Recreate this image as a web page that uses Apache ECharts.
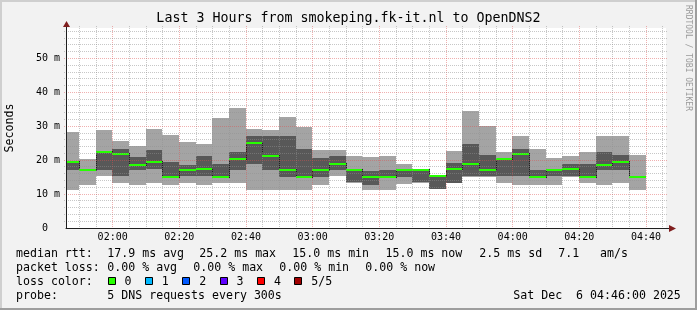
<!DOCTYPE html>
<html><head><meta charset="utf-8">
<script src="https://cdn.jsdelivr.net/npm/echarts@6/dist/echarts.min.js"></script>
<style>html,body{margin:0;padding:0;background:#f2f2f2}#c{width:697px;height:310px}</style>
</head><body><div id="c"></div>
<script>
// ---- data (ms) ----
const binMinutes = 5;
const binStart = ['01:45','01:50','01:55','02:00','02:05','02:10','02:15','02:20','02:25','02:30',
  '02:35','02:40','02:45','02:50','02:55','03:00','03:05','03:10','03:15','03:20',
  '03:25','03:30','03:35','03:40','03:45','03:50','03:55','04:00','04:05','04:10',
  '04:15','04:20','04:25','04:30','04:35'];
const pingMin    = [11.1,12.7,15.2,13.4,12.7,13.4,12.7,13.2,12.7,13.4,13.4,11.1,11.1,11.1,11.1,12.7,15.2,13.3,11.1,11.1,13.0,13.3,11.5,13.3,15.0,15.0,13.4,12.7,12.7,12.7,15.0,13.4,12.7,13.4,11.1];
const ping2      = [17.2,16.8,17.2,15.2,17.2,17.4,14.8,15.2,15.2,14.8,17.0,18.9,17.2,15.1,14.8,15.1,17.0,13.5,12.7,14.8,15.1,13.5,11.6,13.4,15.2,15.2,15.2,15.2,14.8,15.2,15.2,14.8,17.0,17.2,14.8];
const pingMedian = [19.5,17.0,22.5,21.8,18.7,19.6,15.0,17.0,17.3,15.0,20.4,25.2,21.3,17.2,15.0,17.0,19.0,17.2,15.0,15.0,17.0,17.2,15.4,17.5,19.0,17.2,20.4,21.7,15.0,17.0,17.3,15.0,18.7,19.6,15.0];
const ping4      = [19.8,17.3,22.8,23.3,20.8,23.0,19.5,18.5,21.3,19.0,22.5,27.2,27.2,27.2,23.3,20.6,21.3,17.4,16.8,17.0,17.2,17.4,15.6,19.2,24.8,21.6,20.5,23.3,17.1,17.2,18.8,19.0,22.4,21.6,15.4];
const pingMax    = [28.3,20.3,28.9,25.7,24.2,29.2,27.3,25.5,24.9,32.5,35.4,29.2,28.9,32.7,29.8,23.0,23.0,21.3,20.8,21.3,18.9,17.5,15.7,22.7,34.5,30.1,22.4,27.1,23.3,20.7,21.3,22.4,27.1,27.1,21.6];

const xRange = ['01:46','04:46'];
const xTickLabels = ['02:00','02:20','02:40','03:00','03:20','03:40','04:00','04:20','04:40'];
const xMinorGrid = ['01:50','01:55','02:05','02:10','02:15','02:25','02:30','02:35','02:45','02:50','02:55',
  '03:05','03:10','03:15','03:25','03:30','03:35','03:45','03:50','03:55','04:05','04:10','04:15',
  '04:25','04:30','04:35','04:45'];
const yTickLabels = [0,10,20,30,40,50];
const yMinorGrid = [2,4,6,8,12,14,16,18,22,24,26,28,32,34,36,38,42,44,46,48,52,54,56,58];
const yMajorGrid = [10,20,30,40,50];
const yMax = 59;

const lossLabels = ['0','1','2','3','4','5/5'];
const lossColors = ['#26ff00','#00b8ff','#0059ff','#5e00ff','#ff0000','#a00000'];

// ---- helpers ----
const toMin = s => { const p = s.split(':'); return (+p[0]) * 60 + (+p[1]); };
const fmtMin = v => { const h = Math.floor(v / 60), m = Math.round(v % 60); return (h < 10 ? '0' : '') + h + ':' + (m < 10 ? '0' : '') + m; };
const xMin = toMin(xRange[0]), xMax = toMin(xRange[1]);

const lightSmoke = '#a4a4a4', darkSmoke = '#585858', medianColor = lossColors[0];
const gridMinor = 'rgba(143,143,143,0.5)', gridMajor = 'rgba(222,79,79,0.45)';
const MONO = '"DejaVu Sans Mono", monospace';

const barData = binStart.map((t, i) => [toMin(t), pingMin[i], ping2[i], pingMedian[i], ping4[i], pingMax[i],
  i > 0 ? pingMedian[i - 1] : pingMedian[i]]);

const gridData = [].concat(
  xMinorGrid.map(t => [0, toMin(t), 0]),
  xTickLabels.map(t => [0, toMin(t), 1]),
  yMinorGrid.map(v => [1, v, 0]),
  yMajorGrid.map(v => [1, v, 1])
);

function renderBar(params, api) {
  const cs = params.coordSys;
  const s = api.value(0);
  const left = api.coord([s, 0])[0], right = api.coord([s + binMinutes, 0])[0];
  const x0 = Math.max(Math.floor(left), cs.x);
  const x1 = Math.min(Math.floor(right), cs.x + cs.width);
  const Y = v => Math.round(api.coord([s, v])[1]);
  const yLo = Y(api.value(1)), y2 = Y(api.value(2)), yMed = Y(api.value(3)),
        y4 = Y(api.value(4)), yHi = Y(api.value(5)), yPrev = Y(api.value(6));
  const ch = [
    { type: 'rect', shape: { x: x0, y: yHi, width: x1 - x0, height: yLo - yHi }, style: { fill: lightSmoke } },
    { type: 'rect', shape: { x: x0, y: y4, width: x1 - x0, height: y2 - y4 }, style: { fill: darkSmoke } }
  ];
  if (params.dataIndex > 0 && yPrev !== yMed) {
    ch.push({ type: 'rect', shape: { x: x0, y: Math.min(yPrev, yMed) - 1, width: 1, height: Math.abs(yPrev - yMed) + 2 }, style: { fill: '#202020' } });
  }
  ch.push({ type: 'rect', shape: { x: x0, y: yMed - 1, width: x1 - x0, height: 2 }, style: { fill: medianColor } });
  return { type: 'group', children: ch };
}

function renderGrid(params, api) {
  const cs = params.coordSys;
  const o = api.value(0), v = api.value(1), major = api.value(2);
  let shape;
  if (o === 0) {
    const x = Math.floor(api.coord([v, 0])[0]) + 0.5;
    shape = { x1: x, y1: cs.y - 2, x2: x, y2: cs.y + cs.height + 2 };
  } else {
    const y = Math.floor(api.coord([xMin, v])[1]) + 0.5;
    shape = { x1: cs.x - 2, y1: y, x2: cs.x + cs.width + 2, y2: y };
  }
  return { type: 'line', shape, style: { stroke: major ? gridMajor : gridMinor, lineWidth: 1, lineDash: [1, 1] } };
}

// ---- legend / decoration ----
const LF = '11.6px ' + MONO;
function txt(x, y, s, opts) {
  return Object.assign({ type: 'text', silent: true, style: { x, y, text: s, font: LF, fill: '#000',
    align: 'left', verticalAlign: 'middle', textAlign: 'left', textVerticalAlign: 'middle' } }, opts || {});
}
const rows = [254, 268, 282, 296.3];
const g = [];
// frame shades
g.push({ type: 'rect', silent: true, shape: { x: 0, y: 0, width: 697, height: 2 }, style: { fill: '#cfcfcf' } });
g.push({ type: 'rect', silent: true, shape: { x: 0, y: 0, width: 2, height: 310 }, style: { fill: '#cfcfcf' } });
g.push({ type: 'rect', silent: true, shape: { x: 0, y: 308, width: 697, height: 2 }, style: { fill: '#9e9e9e' } });
g.push({ type: 'rect', silent: true, shape: { x: 695, y: 0, width: 2, height: 310 }, style: { fill: '#9e9e9e' } });
// title
g.push({ type: 'text', silent: true, style: { x: 348.5, y: 19, text: 'Last 3 Hours from smokeping.fk-it.nl to OpenDNS2',
  font: '13.3px ' + MONO, fill: '#000', align: 'center', verticalAlign: 'middle', textAlign: 'center', textVerticalAlign: 'middle' } });
// unit label
g.push({ type: 'text', silent: true, x: 10, y: 128, rotation: Math.PI / 2, style: { x: 0, y: 0, text: 'Seconds',
  font: '11.6px ' + MONO, fill: '#000', align: 'center', verticalAlign: 'middle', textAlign: 'center', textVerticalAlign: 'middle' } });
// watermark
g.push({ type: 'text', silent: true, x: 688.5, y: 58, rotation: -Math.PI / 2, style: { x: 0, y: 0, text: 'RRDTOOL / TOBI OETIKER',
  font: '8px ' + MONO, fill: '#9a9a9a', align: 'center', verticalAlign: 'middle', textAlign: 'center', textVerticalAlign: 'middle' } });
// axis arrows
g.push({ type: 'polygon', silent: true, z: 10, shape: { points: [[63, 27], [70, 27], [66.5, 21]] }, style: { fill: '#801f1f' } });
g.push({ type: 'polygon', silent: true, z: 10, shape: { points: [[669, 225], [669, 232], [676, 228.5]] }, style: { fill: '#801f1f' } });
g.push({ type: 'line', silent: true, z: 10, shape: { x1: 66.5, y1: 27, x2: 66.5, y2: 28 }, style: { stroke: '#1f1f1f', lineWidth: 1 } });
g.push({ type: 'line', silent: true, z: 10, shape: { x1: 666, y1: 228.5, x2: 669, y2: 228.5 }, style: { stroke: '#1f1f1f', lineWidth: 1 } });
// legend rows
[[16, 'median rtt:'], [107.3, '17.9 ms avg'], [199.3, '25.2 ms max'], [292.3, '15.0 ms min'],
 [385.5, '15.0 ms now'], [479.3, '2.5 ms sd'], [558.3, '7.1'], [600, 'am/s']].forEach(a => g.push(txt(a[0], rows[0], a[1])));
[[16, 'packet loss:'], [107.3, '0.00 % avg'], [193.3, '0.00 % max'], [279.3, '0.00 % min'],
 [365.3, '0.00 % now']].forEach(a => g.push(txt(a[0], rows[1], a[1])));
g.push(txt(16, rows[2], 'loss color:'));
lossLabels.forEach((l, i) => {
  const bx = 107.5 + i * 37.35;
  g.push({ type: 'rect', silent: true, shape: { x: Math.round(bx) + 0.5, y: 277.5, width: 7, height: 7 },
    style: { fill: lossColors[i], stroke: '#000', lineWidth: 1 } });
  g.push(txt(bx + 17, rows[2], l));
});
g.push(txt(16, rows[3], 'probe:'));
g.push(txt(107.3, rows[3], '5 DNS requests every 300s'));
g.push(txt(513.3, rows[3], 'Sat Dec  6 04:46:00 2025'));

const chart = echarts.init(document.getElementById('c'), null, { renderer: 'canvas' });
chart.setOption({
  animation: false,
  backgroundColor: '#f2f2f2',
  grid: { left: 66, top: 28, width: 600, height: 200, show: true, backgroundColor: '#ffffff', borderWidth: 0 },
  xAxis: {
    type: 'value', min: xMin, max: xMax, z: 5,
    axisLine: { show: true, onZero: false, lineStyle: { color: '#1f1f1f', width: 1 } },
    axisTick: { show: false }, splitLine: { show: false },
    axisLabel: { customValues: xTickLabels.map(toMin), formatter: v => fmtMin(v), margin: 4,
      fontFamily: MONO, fontSize: 10, lineHeight: 10, color: '#000', showMinLabel: true, showMaxLabel: true }
  },
  yAxis: {
    type: 'value', min: 0, max: yMax, z: 5,
    axisLine: { show: true, onZero: false, lineStyle: { color: '#1f1f1f', width: 1 } },
    axisTick: { show: false }, splitLine: { show: false },
    axisLabel: { customValues: yTickLabels, formatter: v => v === 0 ? '0  ' : v + ' m', margin: 6,
      fontFamily: MONO, fontSize: 10, color: '#000' }
  },
  series: [
    { type: 'custom', name: 'smoke', z: 2, data: barData, renderItem: renderBar, silent: true },
    { type: 'custom', name: 'grid', z: 3, data: gridData, renderItem: renderGrid, silent: true }
  ],
  graphic: { elements: g }
});
</script></body></html>
